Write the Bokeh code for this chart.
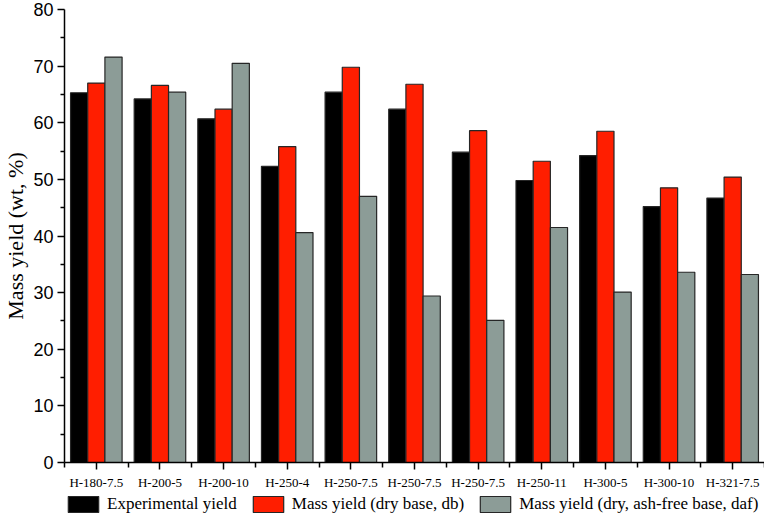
from bokeh.plotting import figure
from bokeh.layouts import column
from bokeh.models import (ColumnDataSource, FixedTicker, Range1d, Legend, LegendItem)
from bokeh.embed import file_html
from bokeh.resources import INLINE

samples = ["H-180-7.5", "H-200-5", "H-200-10", "H-250-4", "H-250-7.5", "H-250-7.5",
           "H-250-7.5", "H-250-11", "H-300-5", "H-300-10", "H-321-7.5"]
experimental = [65.3, 64.2, 60.7, 52.3, 65.4, 62.4, 54.8, 49.8, 54.2, 45.2, 46.7]
mass_db = [67.0, 66.6, 62.4, 55.8, 69.8, 66.8, 58.6, 53.2, 58.5, 48.5, 50.4]
mass_daf = [71.6, 65.4, 70.5, 40.6, 47.0, 29.4, 25.1, 41.5, 30.1, 33.6, 33.2]
series_names = ["Experimental yield", "Mass yield (dry base, db)",
                "Mass yield (dry, ash-free base, daf)"]
y_ticks = [0, 10, 20, 30, 40, 50, 60, 70, 80]

colors = ["#000000", "#FF1E00", "#8C9C97"]
bw = 0.27
offsets = [-bw, 0.0, bw]

idx = list(range(len(samples)))
series = [experimental, mass_db, mass_daf]

p = figure(width=764, height=492, output_backend="svg", toolbar_location=None,
           x_range=Range1d(-0.5, len(samples) - 0.5), y_range=Range1d(0, 80),
           min_border_left=54, min_border_right=0, min_border_top=9, min_border_bottom=27)
p.outline_line_color = None
p.xgrid.visible = False
p.ygrid.visible = False
p.background_fill_color = "white"

for vals, off, col in zip(series, offsets, colors):
    src = ColumnDataSource(dict(x=[i + off for i in idx], top=vals))
    p.vbar(x="x", top="top", width=bw, bottom=0, source=src,
           fill_color=col, line_color="#262626", line_width=1.2)

# x axis
p.xaxis.ticker = FixedTicker(ticks=idx, minor_ticks=[i - 0.5 for i in range(len(samples) + 1)])
p.xaxis.major_label_overrides = {i: s for i, s in enumerate(samples)}
p.xaxis.major_label_text_font = "Liberation Serif"
p.xaxis.major_label_text_font_size = "13px"
p.xaxis.major_label_text_color = "black"
p.xaxis.major_label_standoff = 5
p.xaxis.major_tick_out = 7
p.xaxis.major_tick_in = 0
p.xaxis.minor_tick_out = 5
p.xaxis.minor_tick_in = 0

# y axis
p.yaxis.ticker = FixedTicker(ticks=y_ticks, minor_ticks=[t + 5 for t in y_ticks[:-1]])
p.yaxis.axis_label = "Mass yield (wt, %)"
p.yaxis.axis_label_text_font = "Liberation Serif"
p.yaxis.axis_label_text_font_size = "22px"
p.yaxis.axis_label_text_font_style = "normal"
p.yaxis.axis_label_text_color = "black"
p.yaxis.axis_label_standoff = 2
p.yaxis.major_label_text_font = "Liberation Sans"
p.yaxis.major_label_text_font_size = "18px"
p.yaxis.major_label_text_color = "black"
p.yaxis.major_label_standoff = 4
p.yaxis.major_tick_out = 7
p.yaxis.major_tick_in = 0
p.yaxis.minor_tick_out = 4
p.yaxis.minor_tick_in = 0

for ax in (p.xaxis, p.yaxis):
    ax.axis_line_width = 1.5
    ax.major_tick_line_width = 1.5
    ax.minor_tick_line_width = 1.5
    ax.axis_line_color = "black"
    ax.major_tick_line_color = "black"
    ax.minor_tick_line_color = "black"

# legend strip below the chart (its bars lie outside the strip's visible y range)
lg = figure(width=764, height=24, output_backend="svg", toolbar_location=None,
            x_axis_location=None, y_axis_location=None, min_border=0,
            x_range=Range1d(-0.5, len(samples) - 0.5), y_range=Range1d(100, 101))
lg.outline_line_color = None
lg.xgrid.visible = False
lg.ygrid.visible = False
legend_renderers = []
for vals, off, col in zip(series, offsets, colors):
    src = ColumnDataSource(dict(x=[i + off for i in idx], top=vals))
    legend_renderers.append(lg.vbar(x="x", top="top", width=bw, bottom=0, source=src,
                                    fill_color=col, line_color="#262626", line_width=1.2))
legend = Legend(items=[LegendItem(label=n, renderers=[r])
                       for n, r in zip(series_names, legend_renderers)],
                orientation="horizontal", location=(0, 2),
                padding=0, margin=0, spacing=12, label_standoff=5,
                glyph_width=38, glyph_height=20,
                label_text_font="Liberation Serif", label_text_font_size="17px",
                label_text_color="black",
                border_line_alpha=0, background_fill_alpha=0)
lg.add_layout(legend)

layout = column(p, lg, spacing=0)
open("out.html", "w").write(file_html(layout, INLINE))
